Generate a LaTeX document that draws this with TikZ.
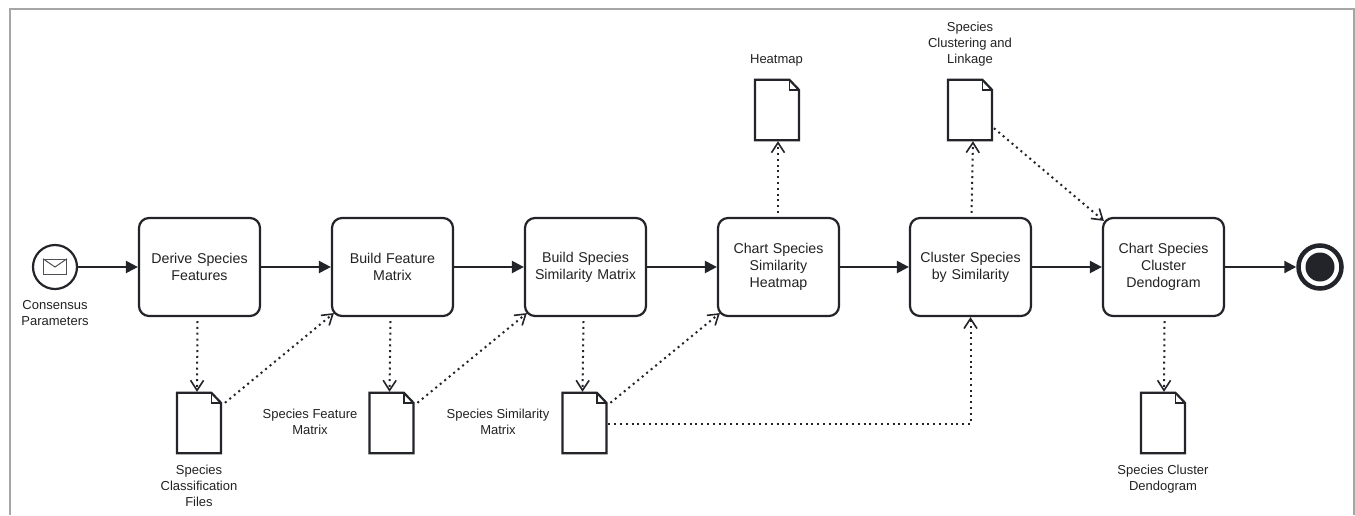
\documentclass[tikz,border=0pt]{standalone}
\usepackage{fontspec}
\setmainfont{Liberation Sans}
\usetikzlibrary{arrows.meta,calc}
\definecolor{ink}{HTML}{22242A}
\definecolor{txt}{HTML}{222222}
\tikzset{
  x=1pt,y=-1pt,
  taskbox/.style={draw=ink,line width=2.2pt,rounded corners=10pt,minimum width=121pt,minimum height=98pt,inner sep=0pt,align=center,text width=112pt,font=\fontsize{14.2}{17.3}\selectfont,text=txt},
  docbox/.style={minimum width=43.5pt,minimum height=60pt,inner sep=0pt},
  docline/.style={draw=ink,line width=2.2pt,fill=white,line join=miter},
  lbl/.style={align=center,font=\fontsize{13}{16}\selectfont,text=txt,inner sep=0pt},
  flow/.style={draw=ink,line width=2.2pt,-{Triangle[length=12pt,width=12pt]}},
  assoc/.style={draw=ink,line width=2pt,dash pattern=on 2pt off 3.8pt,-{Straight Barb[length=10pt,width=13pt,line width=1.6pt]}},
}
\newcommand{\docnode}[3]{%
  \node[docbox] (#1) at (#2,#3) {};
  \draw[docline] (#1.north west) -- ($(#1.north east)+(-9.5,0)$) -- ($(#1.north east)+(0,10)$) -- (#1.south east) -- (#1.south west) -- cycle;
  \draw[draw=ink,line width=1.8pt] ($(#1.north east)+(-9.5,0)$) -- ($(#1.north east)+(-9.5,10)$) -- ($(#1.north east)+(0,10)$);
}
\begin{document}
\begin{tikzpicture}
\useasboundingbox (0,0) rectangle (1355,515);
\fill[white] (0,0) rectangle (1355,515);
\coordinate (fa) at (10,515); \coordinate (fb) at (10,9); \coordinate (fc) at (1354,9); \coordinate (fd) at (1354,515);
\draw[draw=black!35,line width=1.1pt] (fa) -- (fb) -- (fc) -- (fd);

\node[draw=ink,line width=2.2pt,circle,minimum size=44pt,inner sep=0pt] (start) at (55,267) {};
\node[draw=ink!80,line width=1pt,minimum width=23pt,minimum height=15.5pt,inner sep=0pt] (env) at (55,267) {};
\draw[draw=ink!80,line width=1pt] (env.north west) -- (env.center) -- (env.north east);
\node[lbl] (startl) at (55,313) {Consensus\\Parameters};

\node[taskbox] (t1) at (199.5,267) {Derive Species\\Features};
\node[taskbox] (t2) at (392.5,267) {Build Feature\\Matrix};
\node[taskbox] (t3) at (585.5,267) {Build Species\\Similarity Matrix};
\node[taskbox] (t4) at (778.5,267) {Chart Species\\Similarity\\Heatmap};
\node[taskbox] (t5) at (970.5,267) {Cluster Species\\by Similarity};
\node[taskbox] (t6) at (1163.5,267) {Chart Species\\Cluster\\Dendogram};

\node[draw=ink,line width=4.5pt,circle,minimum size=43pt,inner sep=0pt] (end) at (1320,267) {};
\node[fill=ink,circle,minimum size=29pt,inner sep=0pt] (endin) at (1320,267) {};

\docnode{d1}{199}{423}
\docnode{d2}{391.5}{423}
\docnode{d3}{584.5}{423}
\docnode{d4}{777}{110}
\docnode{d5}{970}{110}
\docnode{d6}{1163}{423}

\node[lbl] (l1t) at (199,486) {Species\\Classification\\Files};
\node[lbl] (l2) at (310,421.5) {Species Feature\\Matrix};
\node[lbl] (l3) at (498,421.5) {Species Similarity\\Matrix};
\node[lbl] (l4) at (776.5,60.5) {Heatmap};
\node[lbl] (l5) at (970,44) {Species\\Clustering and\\Linkage};
\node[lbl] (l6) at (1163,479) {Species Cluster\\Dendogram};

\draw[flow] (start) -- (t1);
\draw[flow] (t1) -- (t2);
\draw[flow] (t2) -- (t3);
\draw[flow] (t3) -- (t4);
\draw[flow] (t4) -- (t5);
\draw[flow] (t5) -- (t6);
\draw[flow] (t6) -- (end);

\draw[assoc] ($(t1.south)+(-2,4)$) -- ($(d1.north)+(-2,-1)$);
\draw[assoc] ($(t2.south)+(-2,4)$) -- ($(d2.north)+(-2,-1)$);
\draw[assoc] ($(t3.south)+(-2,4)$) -- ($(d3.north)+(-2,-1)$);
\draw[assoc] ($(t6.south)+(1,4)$) -- ($(d6.north)+(1,-1)$);
\draw[assoc] ($(t4.north)+(-0.5,-4)$) -- ($(d4.south)+(1,1)$);
\draw[assoc] ($(t5.north)+(1,-4)$) -- ($(d5.south)+(3,1)$);
\draw[assoc] ($(d1.north east)+(4,10)$) -- ($(t2.south west)+(3,-4)$);
\draw[assoc] ($(d2.north east)+(4,10)$) -- ($(t3.south west)+(3,-4)$);
\draw[assoc] ($(d3.north east)+(4,10)$) -- ($(t4.south west)+(3,-4)$);
\draw[assoc] ($(d5.south east)+(2,-12)$) -- ($(t6.north west)+(2,4)$);
\draw[assoc] ($(d3.east)+(2,1)$) -| (t5.south);
\end{tikzpicture}
\end{document}
